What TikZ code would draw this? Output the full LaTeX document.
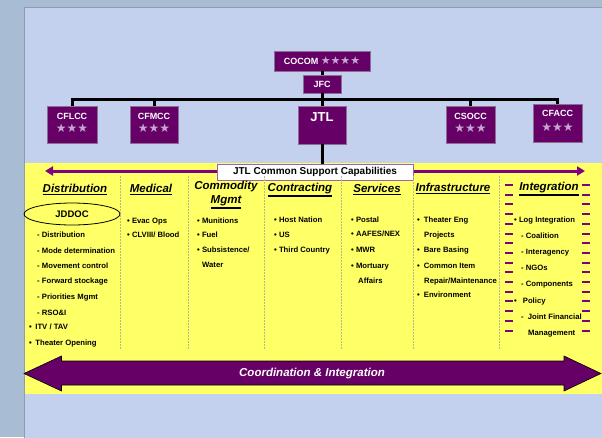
\documentclass[tikz,border=0pt]{standalone}
\usepackage{fontspec}
\setmainfont{Liberation Sans}
\newfontfamily\symfont{DejaVu Sans}
\usetikzlibrary{shapes.geometric,arrows.meta}

\definecolor{outerbg}{HTML}{A8BDD4}
\definecolor{panelbg}{HTML}{C3D1EF}
\definecolor{paneledge}{HTML}{8E9CB2}
\definecolor{bandyellow}{HTML}{FFFF66}
\definecolor{boxpurple}{HTML}{660066}
\definecolor{boxedge}{HTML}{8A7090}
\definecolor{arrowpurple}{HTML}{800080}
\definecolor{capedge}{HTML}{9966AA}
\definecolor{starfill}{HTML}{C4A6D0}
\definecolor{sepgray}{HTML}{B8B890}

\newcommand\threestars{{\symfont\mdseries\fontsize{12}{12}\selectfont\color{starfill}★★★}}
\newcommand\fourstars{{\symfont\mdseries\fontsize{11}{11}\selectfont\color{starfill}★★★★}}
\newcommand\hul[1]{\setbox0=\hbox{#1}\vtop{\copy0\kern0.8pt\hrule height1.6pt width\wd0}}

\begin{document}
\begin{tikzpicture}[x=1pt,y=-1pt,
    orgbox/.style={draw=boxedge, fill=boxpurple, text=white, inner sep=0pt, align=center, font=\bfseries\fontsize{9}{13}\selectfont},
    orgline/.style={line width=3pt},
    colhead/.style={align=center, font=\bfseries\itshape\fontsize{11.5}{14}\selectfont},
    listitem/.style={anchor=base west, inner sep=0pt, font=\bfseries\fontsize{7.7}{9}\selectfont},
    colsep/.style={sepgray, dash pattern=on 1.5pt off 1.5pt, line width=0.5pt},
    intdash/.style={arrowpurple, line width=2pt}]
    \useasboundingbox (0,0) rectangle (602,437);
    \fill[outerbg] (0,0) rectangle (602,437);
    \filldraw[fill=panelbg, draw=paneledge] (24,7) rectangle (603,438);
    \fill[bandyellow] (24.5,163) rectangle (602,394);

    \node[orgbox, minimum width=96, minimum height=20] (cocom) at (322,61) {COCOM \fourstars};
    \node[orgbox, minimum width=38, minimum height=18] (jfc) at (322,84) {JFC};
    \node[orgbox, minimum width=50, minimum height=37, text depth=4pt] (cflcc) at (72,124.5) {CFLCC\\\threestars};
    \node[orgbox, minimum width=48, minimum height=37, text depth=4pt] (cfmcc) at (154,124.5) {CFMCC\\\threestars};
    \node[orgbox, minimum width=48, minimum height=38, font=\bfseries\fontsize{13}{13}\selectfont, text height=9.5pt, text depth=17pt] (jtl) at (322,125) {JTL};
    \node[orgbox, minimum width=49, minimum height=37, text depth=4pt] (csocc) at (470.5,124.5) {CSOCC\\\threestars};
    \node[orgbox, minimum width=49, minimum height=38, font=\bfseries\fontsize{9}{15}\selectfont, text depth=4pt] (cfacc) at (557.5,123) {CFACC\\\threestars};

    \coordinate (bar) at (322,99);
    \draw[orgline] (cocom) -- (jfc);
    \draw[orgline] (jfc) -- (bar);
    \draw[orgline] (cflcc) |- (bar) -| (cfacc);
    \draw[orgline] (cfmcc) -- (cfmcc |- bar);
    \draw[orgline] (jtl) -- (bar);
    \draw[orgline] (csocc) -- (csocc |- bar);

    \coordinate (capl) at (45,171);
    \coordinate (capr) at (585,171);
    \draw[arrowpurple, line width=3pt, {Triangle[length=8pt,width=9pt]}-{Triangle[length=8pt,width=9pt]}] (capl) -- (capr);
    \node[draw=capedge, fill=white, line width=1pt, minimum width=196, minimum height=16, inner sep=0pt, font=\bfseries\fontsize{10}{10}\selectfont] (jtlcap) at (315,172) {JTL Common Support Capabilities};
    \draw[orgline] (jtl.south) -- (jtl.south |- jtlcap.north);

    \draw[colsep] (120,176) -- (120,350);
    \draw[colsep] (188,176) -- (188,350);
    \draw[colsep] (264,176) -- (264,350);
    \draw[colsep] (341,176) -- (341,350);
    \draw[colsep] (413,176) -- (413,350);
    \draw[colsep] (499,176) -- (499,350);

    \foreach \i in {0,...,15} {
        \draw[intdash] (505,{185+9.7*\i}) -- ++(8,0);
        \draw[intdash] (582,{185+9.7*\i}) -- ++(8,0);
    }

    \node[colhead] (hdist) at (75,190) {\hul{Distribution}};
    \node[colhead] (hmed) at (151,190) {\hul{Medical}};
    \node[colhead] (hcomm) at (226,195) {Commodity\\\hul{Mgmt}};
    \node[colhead] (hcontr) at (300,190) {\hul{Contracting}};
    \node[colhead] (hserv) at (377,190) {\hul{Services}};
    \node[colhead] (hinfra) at (453,189) {\hul{Infrastructure}};
    \node[colhead] (hinteg) at (549,189) {\hul{Integration}};

    \node[draw, ellipse, minimum width=96, minimum height=22, inner sep=0pt, line width=0.8pt, font=\bfseries\fontsize{9.5}{9.5}\selectfont] (jddoc) at (72,214) {JDDOC};

    \node[listitem] (dist1) at (37,237) {- Distribution};
    \node[listitem] (dist2) at (37,253) {- Mode determination};
    \node[listitem] (dist3) at (37,268) {- Movement control};
    \node[listitem] (dist4) at (37,283) {- Forward stockage};
    \node[listitem] (dist5) at (37,299) {- Priorities Mgmt};
    \node[listitem] (dist6) at (37,315) {- RSO\&I};
    \node[listitem] (dist7) at (29,329) {•\hspace{3.5pt}ITV / TAV};
    \node[listitem] (dist8) at (29,345) {•\hspace{3.5pt}Theater Opening};

    \node[listitem] (med1) at (127,223) {• Evac Ops};
    \node[listitem] (med2) at (127,237) {• CLVIII/ Blood};

    \node[listitem] (comm1) at (197,223) {• Munitions};
    \node[listitem] (comm2) at (197,237) {• Fuel};
    \node[listitem] (comm3) at (197,252) {• Subsistence/};
    \node[listitem] (comm4) at (202,267) {Water};

    \node[listitem] (contr1) at (274,222) {• Host Nation};
    \node[listitem] (contr2) at (274,237) {• US};
    \node[listitem] (contr3) at (274,252) {• Third Country};

    \node[listitem] (serv1) at (351,222) {• Postal};
    \node[listitem] (serv2) at (351,236) {• AAFES/NEX};
    \node[listitem] (serv3) at (351,252) {• MWR};
    \node[listitem] (serv4) at (351,268) {• Mortuary};
    \node[listitem] (serv5) at (358,283) {Affairs};

    \node[listitem] (infra1) at (417,222) {•\hspace{4pt}Theater Eng};
    \node[listitem] (infra2) at (424,237) {Projects};
    \node[listitem] (infra3) at (417,252) {•\hspace{4pt}Bare Basing};
    \node[listitem] (infra4) at (417,268) {•\hspace{4pt}Common Item};
    \node[listitem] (infra5) at (424,283) {Repair/Maintenance};
    \node[listitem] (infra6) at (417,297) {•\hspace{4pt}Environment};

    \node[listitem] (integ1) at (514,222) {• Log Integration};
    \node[listitem] (integ2) at (521,238) {- Coalition};
    \node[listitem] (integ3) at (521,254) {- Interagency};
    \node[listitem] (integ4) at (521,270) {- NGOs};
    \node[listitem] (integ5) at (521,286) {- Components};
    \node[listitem] (integ6) at (514,303) {•\hspace{6pt}Policy};
    \node[listitem] (integ7) at (521,319) {-\hspace{4pt}Joint Financial};
    \node[listitem] (integ8) at (528,335) {Management};

    \filldraw[fill=boxpurple, draw=black, line width=0.6pt] (24,373.5) -- (61.5,356) -- (61.5,361) -- (564,361) -- (564,356) -- (601,373.5) -- (564,391) -- (564,385) -- (61.5,385) -- (61.5,391) -- cycle;
    \node[text=white, font=\bfseries\itshape\fontsize{11.5}{11.5}\selectfont] (coordint) at (312,373.5) {Coordination \& Integration};
\end{tikzpicture}
\end{document}
